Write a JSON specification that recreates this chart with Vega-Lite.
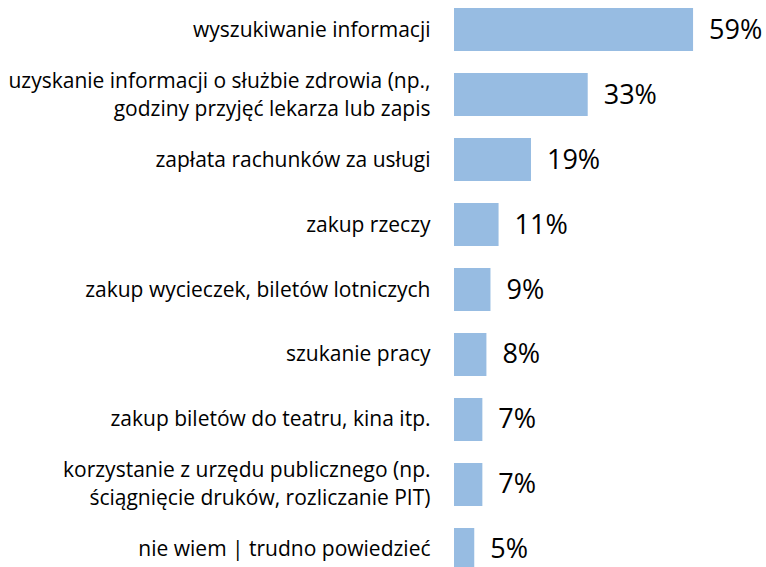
{
  "$schema": "https://vega.github.io/schema/vega-lite/v6.json",
  "autosize": {"type": "none"},
  "padding": {"left": 454, "top": 0, "right": 0, "bottom": 0},
  "width": 312,
  "height": 579,
  "background": "white",
  "config": {"view": {"stroke": null}, "font": "Open Sans"},
  "data": {"values": [
    {"label": "wyszukiwanie informacji", "value": 0.59},
    {"label": "uzyskanie informacji o służbie zdrowia (np.,~godziny przyjęć lekarza lub zapis", "value": 0.33},
    {"label": "zapłata rachunków za usługi", "value": 0.19},
    {"label": "zakup rzeczy", "value": 0.11},
    {"label": "zakup wycieczek, biletów lotniczych", "value": 0.09},
    {"label": "szukanie pracy", "value": 0.08},
    {"label": "zakup biletów do teatru, kina itp.", "value": 0.07},
    {"label": "korzystanie z urzędu publicznego (np.~ściągnięcie druków, rozliczanie PIT)", "value": 0.07},
    {"label": "nie wiem | trudno powiedzieć", "value": 0.05}
  ]},
  "encoding": {
    "y": {
      "field": "label", "type": "nominal", "sort": null,
      "scale": {"paddingInner": 0.338, "paddingOuter": 0.123},
      "axis": {
        "title": null, "domain": false, "ticks": false, "labelPadding": 24,
        "labelLimit": 500, "labelFontSize": 21, "labelColor": "#000000",
        "labelFont": "Open Sans", "labelLineHeight": 28,
        "labelOffset": {"condition": {"test": "indexof(datum.value, '~') >= 0", "value": -13}, "value": 1},
        "labelExpr": "split(datum.label, '~')"
      }
    },
    "x": {"field": "value", "type": "quantitative", "scale": {"domain": [0, 0.77], "nice": false}, "axis": null}
  },
  "layer": [
    {"mark": {"type": "bar", "color": "#97BCE2", "clip": false}},
    {"mark": {"type": "text", "align": "left", "baseline": "middle", "dx": 16, "dy": 1, "fontSize": 27, "color": "#000000", "font": "Open Sans"},
     "encoding": {"text": {"field": "value", "type": "quantitative", "format": ".0%"}}}
  ]
}
